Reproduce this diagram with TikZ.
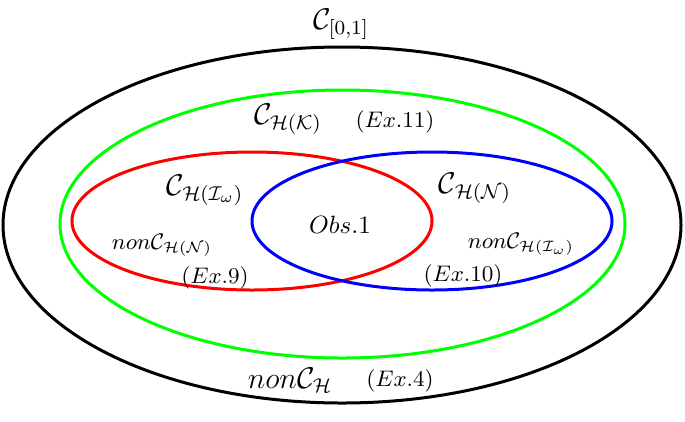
\documentclass[tikz,border=0pt]{standalone}
\usepackage{amsmath}
\begin{document}
\begin{tikzpicture}[x=0.4pt,y=-0.4pt,
  ring/.style={line width=1.2pt},
  big/.style={font=\large},
  mid/.style={font=\normalsize},
  sm/.style={font=\small}]
\useasboundingbox (0,0) rectangle (685,421);
\draw[ring,black] (342,225) ellipse [x radius=339, y radius=178];
\draw[ring,green] (342.5,224) ellipse [x radius=282.5, y radius=134];
\draw[ring,red] (252,221) ellipse [x radius=180, y radius=69];
\draw[ring,blue] (432,221) ellipse [x radius=180, y radius=69];
\node[big] (c01) at (341,24) {$\mathcal{C}_{[0,1]}$};
\node[big] (chk) at (288,119) {$\mathcal{C}_{\mathcal{H}(\mathcal{K})}$};
\node[sm] (ex11) at (395,122) {$(Ex.11)$};
\node[big] (chi) at (205,190) {$\mathcal{C}_{\mathcal{H}(\mathcal{I}_\omega)}$};
\node[sm] (nchn) at (162,245) {$non\mathcal{C}_{\mathcal{H}(\mathcal{N})}$};
\node[sm] (ex9) at (215,278) {$(Ex.9)$};
\node[mid] (obs) at (340,225) {$Obs.1$};
\node[big] (chn) at (475,188) {$\mathcal{C}_{\mathcal{H}(\mathcal{N})}$};
\node[sm] (nchi) at (521,244) {$non\mathcal{C}_{\mathcal{H}(\mathcal{I}_\omega)}$};
\node[sm] (ex10) at (463,276) {$(Ex.10)$};
\node[big] (nch) at (290,380) {$non\mathcal{C}_{\mathcal{H}}$};
\node[sm] (ex4) at (400,381) {$(Ex.4)$};
\end{tikzpicture}
\end{document}
